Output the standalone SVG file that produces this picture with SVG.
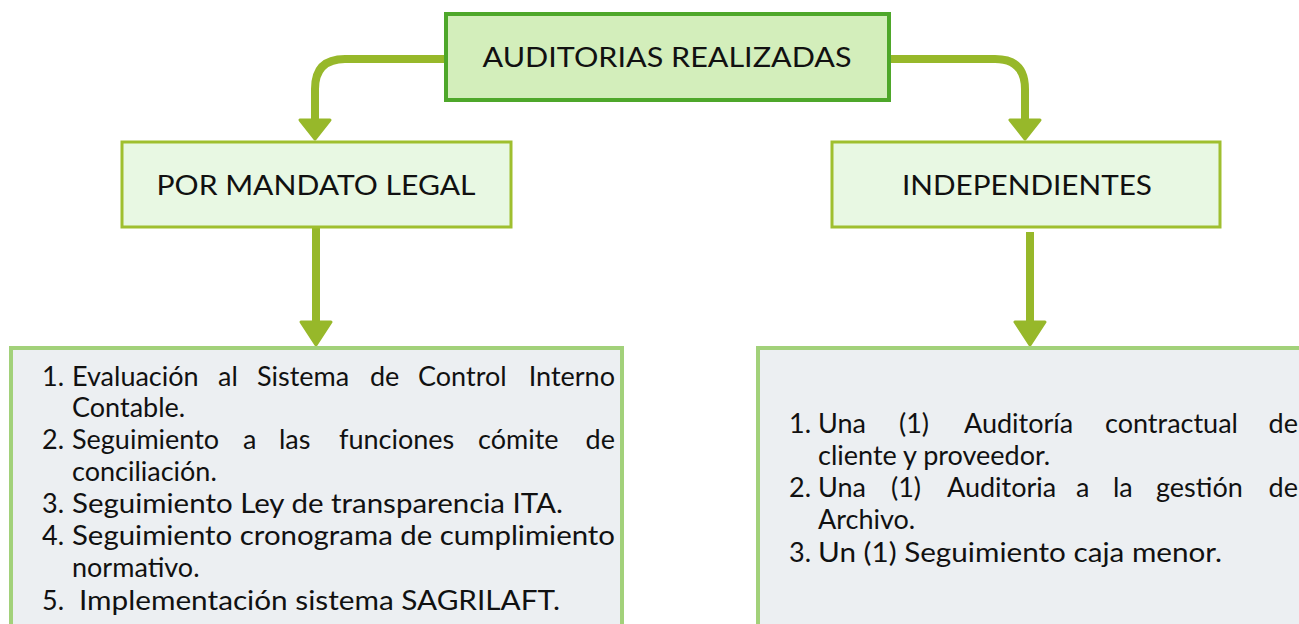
<svg xmlns="http://www.w3.org/2000/svg" width="1299" height="624" viewBox="0 0 1299 624">
<style>
.t{font-family:Lato,"Open Sans","Liberation Sans",sans-serif;fill:#111;}
.h{font-size:27px;text-anchor:middle;}
.b{font-size:27px;}
.conn path{fill:none;stroke:#97b82a;stroke-width:8;}
.conn polygon{fill:#97b82a;stroke:#97b82a;stroke-width:3;stroke-linejoin:round;}
</style>
<rect width="1299" height="624" fill="#fff"/>
<g id="connectors" class="conn">
<path d="M445,59 H345 Q315,59 315,89 V122"/>
<polygon points="300,120 330,120 315,139"/>
<path d="M890,59 H995 Q1025,59 1025,89 V122"/>
<polygon points="1010,120 1040,120 1025,139"/>
<path d="M316,228 V324"/>
<polygon points="301,322 331,322 316,345"/>
<path d="M1030,232 V324"/>
<polygon points="1015,322 1045,322 1030,345"/>
</g>
<g id="top">
<rect x="446" y="14" width="443" height="86" fill="#d3eebb" stroke="#4ea72a" stroke-width="4"/>
<text class="t h" x="667" y="67" textLength="369" lengthAdjust="spacingAndGlyphs">AUDITORIAS REALIZADAS</text>
</g>
<g id="mandato">
<rect x="122" y="142" width="389" height="85" fill="#e8f8e3" stroke="#9fbf2f" stroke-width="3"/>
<text class="t h" x="316" y="195" textLength="319" lengthAdjust="spacingAndGlyphs">POR MANDATO LEGAL</text>
</g>
<g id="independientes">
<rect x="832" y="142" width="388" height="85" fill="#e8f8e3" stroke="#9fbf2f" stroke-width="3"/>
<text class="t h" x="1027" y="195" textLength="250" lengthAdjust="spacingAndGlyphs">INDEPENDIENTES</text>
</g>
<g id="lista-mandato">
<rect x="11" y="348" width="611" height="290" fill="#eceff2" stroke="#a2d17a" stroke-width="4"/>
<text class="t b" x="42" y="386">1.</text>
<text class="t b" y="386"><tspan x="72">Evaluación</tspan><tspan x="218">al</tspan><tspan x="257">Sistema</tspan><tspan x="370">de</tspan><tspan x="418">Control</tspan><tspan x="615" text-anchor="end">Interno</tspan></text>
<text class="t b" x="72" y="417">Contable.</text>
<text class="t b" x="42" y="449">2.</text>
<text class="t b" y="449"><tspan x="72">Seguimiento</tspan><tspan x="243">a</tspan><tspan x="279">las</tspan><tspan x="339">funciones</tspan><tspan x="478">cómite</tspan><tspan x="615" text-anchor="end">de</tspan></text>
<text class="t b" x="72" y="481">conciliación.</text>
<text class="t b" x="42" y="513">3.</text>
<text class="t b" x="72" y="513" textLength="491" lengthAdjust="spacingAndGlyphs">Seguimiento Ley de transparencia ITA.</text>
<text class="t b" x="42" y="545">4.</text>
<text class="t b" x="72" y="545" textLength="543" lengthAdjust="spacingAndGlyphs">Seguimiento cronograma de cumplimiento</text>
<text class="t b" x="72" y="577">normativo.</text>
<text class="t b" x="42" y="610">5.</text>
<text class="t b" x="79" y="610" textLength="481" lengthAdjust="spacingAndGlyphs">Implementación sistema SAGRILAFT.</text>
</g>
<g id="lista-independientes">
<rect x="758" y="348" width="560" height="290" fill="#eceff2" stroke="#a2d17a" stroke-width="4"/>
<text class="t b" x="789" y="433">1.</text>
<text class="t b" y="433"><tspan x="818">Una</tspan><tspan x="899">(1)</tspan><tspan x="964">Auditoría</tspan><tspan x="1105">contractual</tspan><tspan x="1298" text-anchor="end">de</tspan></text>
<text class="t b" x="818" y="465">cliente y proveedor.</text>
<text class="t b" x="789" y="497">2.</text>
<text class="t b" y="497"><tspan x="818">Una</tspan><tspan x="891">(1)</tspan><tspan x="947">Auditoria</tspan><tspan x="1076">a</tspan><tspan x="1113">la</tspan><tspan x="1156">gestión</tspan><tspan x="1298" text-anchor="end">de</tspan></text>
<text class="t b" x="818" y="529">Archivo.</text>
<text class="t b" x="789" y="562">3.</text>
<text class="t b" x="818" y="562" textLength="404" lengthAdjust="spacingAndGlyphs">Un (1) Seguimiento caja menor.</text>
</g>
</svg>
